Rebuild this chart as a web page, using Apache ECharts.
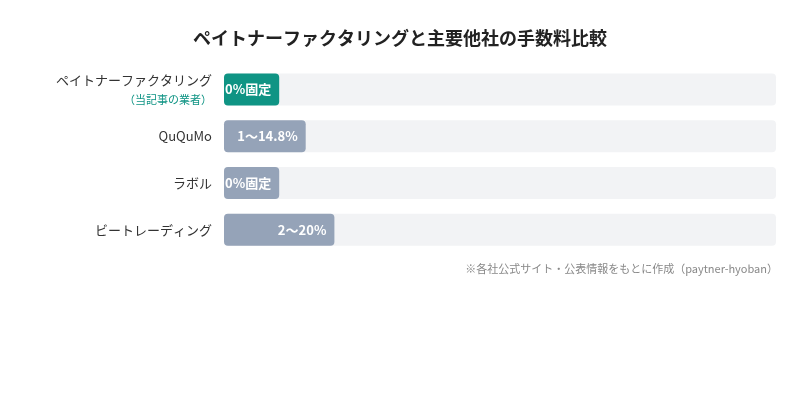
<!DOCTYPE html>
<html>
<head>
<meta charset="utf-8">
<script src="https://cdn.jsdelivr.net/npm/echarts@6/dist/echarts.min.js"></script>
<style>
  html, body { margin: 0; padding: 0; background: #fff; }
  #chart { width: 800px; height: 400px; }
</style>
</head>
<body>
<div id="chart"></div>
<script>
// 各社の手数料（バーの長さ用の値、0%固定は見やすさのため10として表示）
var companies = ['ペイトナーファクタリング', 'QuQuMo', 'ラボル', 'ビートレーディング'];
var barValues = [10, 14.8, 10, 20];
var feeLabels = ['0%固定', '1〜14.8%', '0%固定', '2〜20%'];
var subLabel = '（当記事の業者）';
var axisMax = 100;

var teal = '#0f9484';
var slate = '#95a3b8';
var font = '"Noto Sans CJK JP", "Noto Sans", sans-serif';

var chart = echarts.init(document.getElementById('chart'));

var option = {
    backgroundColor: '#fff',
    textStyle: { fontFamily: font },
    title: [
        {
            text: 'ペイトナーファクタリングと主要他社の手数料比較',
            left: 'center',
            top: 24,
            textStyle: { fontSize: 18, fontWeight: 'bold', color: '#222', fontFamily: font }
        },
        {
            text: '※各社公式サイト・公表情報をもとに作成（paytner-hyoban）',
            right: 17,
            top: 258,
            textStyle: { fontSize: 11, fontWeight: 'normal', color: '#888', fontFamily: font }
        }
    ],
    grid: { left: 224, right: 24, top: 66, height: 187 },
    xAxis: {
        type: 'value',
        min: 0,
        max: axisMax,
        show: false
    },
    yAxis: {
        type: 'category',
        inverse: true,
        data: companies,
        axisLine: { show: false },
        axisTick: { show: false },
        axisLabel: {
            margin: 12,
            color: '#333',
            fontSize: 13,
            fontFamily: font,
            formatter: function (v, i) {
                if (i === 0) return '{a|' + v + '}\n{b|' + subLabel + '}';
                return v;
            },
            rich: {
                a: { fontSize: 13, color: '#333', fontFamily: font, lineHeight: 20, align: 'right', padding: [0, 0, 2, 0] },
                b: { fontSize: 11, color: teal, fontFamily: font, lineHeight: 16, align: 'right' }
            }
        }
    },
    series: [{
        type: 'bar',
        barWidth: 32,
        data: barValues.map(function (v, i) {
            return { value: v, itemStyle: { color: i === 0 ? teal : slate } };
        }),
        itemStyle: { borderRadius: 4 },
        showBackground: true,
        backgroundStyle: { color: '#f2f3f5', borderRadius: 4 },
        label: {
            show: true,
            position: 'insideRight',
            distance: 8,
            color: '#fff',
            fontSize: 13,
            fontWeight: 'bold',
            fontFamily: font,
            formatter: function (p) { return feeLabels[p.dataIndex]; }
        },
        silent: true
    }]
};

chart.setOption(option);
</script>
</body>
</html>
